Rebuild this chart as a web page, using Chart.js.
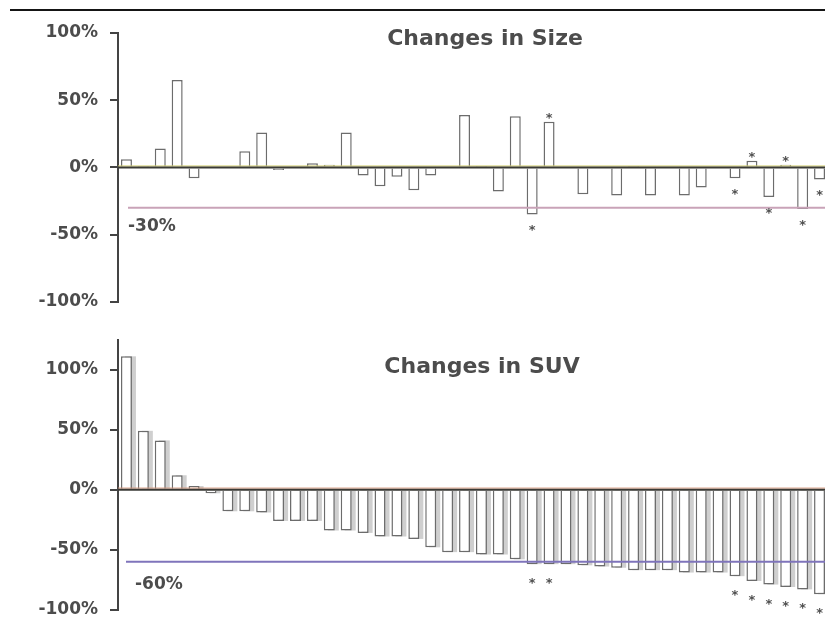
<!DOCTYPE html>
<html>
<head>
<meta charset="utf-8">
<script src="https://cdn.jsdelivr.net/npm/chart.js@4/dist/chart.umd.min.js"></script>
<style>
  html, body { margin: 0; padding: 0; background: #fff; overflow: hidden; }
  #page { position: relative; width: 825px; height: 624px; overflow: hidden; background: #fff; }
  #rule { position: absolute; left: 10px; top: 9px; width: 815px; height: 2px; background: #151515; }
  canvas { position: absolute; left: 0; }
  #sizeChart { top: 0; }
  #suvChart { top: 312px; }
</style>
</head>
<body>
<div id="page">
  <div id="rule"></div>
  <canvas id="sizeChart" width="828" height="324"></canvas>
  <canvas id="suvChart" width="828" height="320"></canvas>
</div>
<script>
// Patients, in the same order in both panels (sorted by SUV change)
const patients = Array.from({ length: 42 }, (_, i) => 'P' + (i + 1));

// Percent change in lesion size per patient
const sizeChange = [
  6, 1, 14, 65, -8, 0, 0, 12, 26, -2,
  0, 3, 2, 26, -6, -14, -7, -17, -6, 0,
  39, 1, -18, 38, -35, 34, 0, -20, 0, -21,
  1, -21, 0, -21, -15, 0, -8, 5, -22, 2,
  -31, -9
];

// Percent change in SUV per patient
const suvChange = [
  111, 49, 41, 12, 3, -3, -18, -18, -19, -26,
  -26, -26, -34, -34, -36, -39, -39, -41, -48, -52,
  -52, -54, -54, -58, -62, -62, -62, -63, -64, -65,
  -67, -67, -67, -69, -69, -69, -72, -76, -79, -81,
  -83, -87
];

// Patients flagged with an asterisk
const flagged = [24, 25, 36, 37, 38, 39, 40, 41];

// Axis ticks and response thresholds
const yTicks = [-100, -50, 0, 50, 100];
const sizeThreshold = -30;
const suvThreshold = -60;

const FONT = "'DejaVu Sans', 'Liberation Sans', Arial, sans-serif";
const TEXT = '#4c4c4c';

// Reference lines, threshold labels, panel titles, bar shadows and asterisks
const overlay = {
  id: 'overlay',
  beforeDatasetsDraw(chart, args, o) {
    if (!o.shadow) return;
    const ctx = chart.ctx;
    const meta = chart.getDatasetMeta(0);
    ctx.save();
    ctx.fillStyle = o.shadow;
    meta.data.forEach(b => {
      const p = b.getProps(['x', 'y', 'base', 'width'], true);
      const top = Math.min(p.y, p.base);
      const h = Math.abs(p.base - p.y);
      ctx.fillRect(p.x - p.width / 2 + 4, top, p.width, h);
    });
    ctx.restore();
  },
  afterDatasetsDraw(chart, args, o) {
    const ctx = chart.ctx;
    const a = chart.chartArea;
    const y = chart.scales.y;

    // zero line
    const y0 = y.getPixelForValue(0);
    ctx.save();
    ctx.lineCap = 'butt';
    ctx.strokeStyle = o.zeroGlow;
    ctx.lineWidth = 2;
    ctx.beginPath(); ctx.moveTo(a.left, y0 - 1.5); ctx.lineTo(a.right, y0 - 1.5); ctx.stroke();
    ctx.strokeStyle = '#3a3a36';
    ctx.lineWidth = 2;
    ctx.beginPath(); ctx.moveTo(a.left, y0); ctx.lineTo(a.right, y0); ctx.stroke();

    // threshold line and its label
    const yt = y.getPixelForValue(o.threshold);
    ctx.strokeStyle = o.thresholdColor;
    ctx.lineWidth = 2;
    ctx.beginPath(); ctx.moveTo(o.lineStart, yt); ctx.lineTo(a.right, yt); ctx.stroke();
    ctx.fillStyle = TEXT;
    ctx.font = 'bold 17px ' + FONT;
    ctx.textAlign = 'left';
    ctx.textBaseline = 'alphabetic';
    ctx.fillText(o.threshold + '%', o.labelX, yt + o.labelDy);

    // panel title
    ctx.font = 'bold 22px ' + FONT;
    ctx.textAlign = 'center';
    ctx.fillText(o.title, o.titleX, o.titleY);

    // asterisks
    const meta = chart.getDatasetMeta(0);
    const vals = chart.data.datasets[0].data;
    ctx.font = 'bold 13px ' + FONT;
    ctx.fillStyle = '#505050';
    o.stars.forEach(i => {
      const bar = meta.data[i];
      const cy = vals[i] >= 0 ? bar.y - o.upGap : bar.y + o.downGap;
      ctx.fillText('*', bar.x, cy + 7);
    });
    ctx.restore();
  }
};

function panel(id, values, opt) {
  return new Chart(document.getElementById(id), {
    type: 'bar',
    data: {
      labels: patients,
      datasets: [{
        data: values,
        backgroundColor: '#ffffff',
        borderColor: '#6c6c6c',
        borderWidth: 1.5,
        barPercentage: 0.65,
        categoryPercentage: 1.0
      }]
    },
    plugins: [overlay],
    options: {
      responsive: false,
      animation: false,
      events: [],
      layout: { padding: { top: opt.padTop, bottom: opt.padBottom, left: 0, right: 0 } },
      plugins: {
        legend: { display: false },
        tooltip: { enabled: false },
        overlay: opt.overlay
      },
      scales: {
        x: { type: 'category', display: false, offset: true },
        y: {
          min: opt.min,
          max: opt.max,
          afterBuildTicks: s => { s.ticks = yTicks.map(v => ({ value: v })); },
          afterFit: s => { s.width = 118; },
          border: { display: true, color: '#444', width: 2 },
          grid: {
            display: true, drawOnChartArea: false, drawTicks: true,
            tickLength: 8, tickColor: '#444', tickWidth: 2, color: '#444', lineWidth: 2
          },
          ticks: {
            color: TEXT,
            padding: 12,
            font: { family: FONT, size: 17, weight: 'bold' },
            callback: v => v + '%'
          }
        }
      }
    }
  });
}

panel('sizeChart', sizeChange, {
  min: -100, max: 100, padTop: 33, padBottom: 18,
  overlay: {
    title: 'Changes in Size', titleX: 485, titleY: 45,
    threshold: sizeThreshold, thresholdColor: '#c9a3b8', lineStart: 128,
    labelX: 128, labelDy: 23,
    zeroGlow: 'rgba(210,205,110,0.55)',
    stars: flagged, upGap: 7, downGap: 13,
    shadow: null
  }
});

panel('suvChart', suvChange, {
  min: -100, max: 125, padTop: 27.5, padBottom: 18,
  overlay: {
    title: 'Changes in SUV', titleX: 482, titleY: 61,
    threshold: suvThreshold, thresholdColor: '#7f74bb', lineStart: 126,
    labelX: 135, labelDy: 27,
    zeroGlow: 'rgba(215,150,120,0.55)',
    stars: flagged, upGap: 8, downGap: 16,
    shadow: '#cfcfcf'
  }
});
</script>
</body>
</html>
